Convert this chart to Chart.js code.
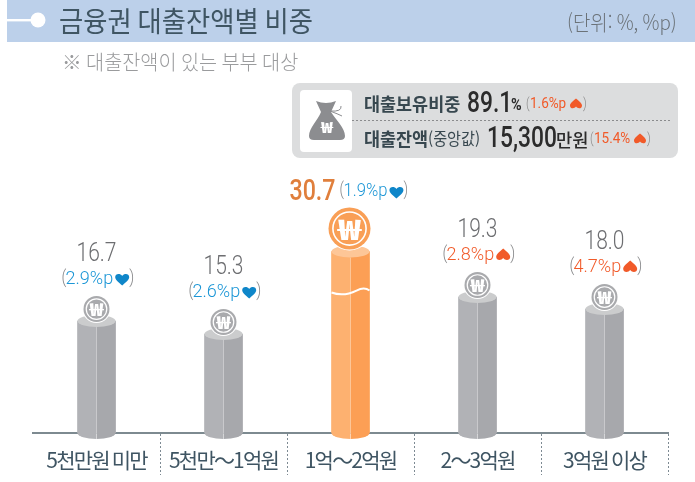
<!DOCTYPE html>
<html lang="ko"><head><meta charset="utf-8">
<style>html,body{margin:0;padding:0;background:#fff}#w{width:695px;height:482px;position:relative}</style>
<script src="https://cdn.jsdelivr.net/npm/chart.js@4/dist/chart.umd.js"></script>
</head><body><div id="w"><canvas id="c" width="695" height="482"></canvas></div>
<script>
// ---- data ----
const categories = ['5천만원 미만','5천만～1억원','1억～2억원','2～3억원','3억원 이상'];
const shares     = [16.7, 15.3, 30.7, 19.3, 18.0];
const changes    = ['2.9%p','2.6%p','1.9%p','2.8%p','4.7%p'];
const rising     = [false, false, false, true, true];
const highlight  = 2;
const titleText  = '금융권 대출잔액별 비중';
const unitText   = '(단위: %, %p)';
const noteText   = '※ 대출잔액이 있는 부부 대상';
const boxShareLabel = '대출보유비중', boxShareValue = '89.1', boxShareChange = '1.6%p';
const boxLoanLabel = '대출잔액', boxLoanSub = '(중앙값)', boxLoanValue = '15,300', boxLoanUnit = '만원', boxLoanChange = '15.4%';
const axisMin = 4.6, axisMax = 30;

const KR = '"Noto Sans CJK KR","Noto Sans"', NUM = 'Roboto,"Noto Sans"';
const BLUE='#1b96d6', RED='#f15a29', GREY='#6d6e71';

// The reference bar is broken: values above breakAt are compressed on the axis.
const breakAt = 20, breakRatio = 0.394;
class BrokenScale extends Chart.LinearScale {
  getPixelForValue(v){ return super.getPixelForValue(v>breakAt ? breakAt+(v-breakAt)*breakRatio : v); }
}
BrokenScale.id='brokenLinear'; BrokenScale.defaults=Chart.LinearScale.defaults;
Chart.register(BrokenScale);

function T(ctx,s,x,y,font,color,cond=1,align='left'){
  ctx.save(); ctx.font=font; ctx.fillStyle=color; ctx.textBaseline='middle'; ctx.textAlign=align;
  const w=ctx.measureText(s).width*cond;
  ctx.fillText(s,x,y,w); ctx.restore(); return w;
}
function heart(ctx,x,y,s,up,color){
  ctx.save(); ctx.translate(x,y); if(up) ctx.scale(1,-1); ctx.scale(s/14,s/14);
  ctx.fillStyle=color; ctx.beginPath(); ctx.moveTo(0,6.5);
  ctx.bezierCurveTo(-4,3,-7,1,-7,-2); ctx.bezierCurveTo(-7,-5.5,-2,-6,0,-3);
  ctx.bezierCurveTo(2,-6,7,-5.5,7,-2); ctx.bezierCurveTo(7,1,4,3,0,6.5); ctx.fill(); ctx.restore();
}
function ell(ctx,x,y,rx,ry,c){ctx.fillStyle=c;ctx.beginPath();ctx.ellipse(x,y,rx,ry,0,0,Math.PI*2);ctx.fill();}
function coin(ctx,x,y,r,main){
  ctx.save();
  ell(ctx,x,y,r+1,r+1,'#fff'); ell(ctx,x,y,r,r,main);
  ctx.strokeStyle='#fff'; ctx.lineWidth=r>15?1.6:1.2; ctx.beginPath(); ctx.arc(x,y,r*0.79,0,Math.PI*2); ctx.stroke();
  const f='900 '+Math.round(r*1.32)+'px '+KR;
  ctx.translate(x,y); ctx.scale(1.35,1);
  T(ctx,'₩',0,0.5,f,'#fff',1,'center');
  ctx.restore();
}
function rr(ctx,x,y,w,h,r,c){ctx.fillStyle=c;ctx.beginPath();ctx.roundRect(x,y,w,h,r);ctx.fill();}

const chromePlugin={ id:'chrome',
  beforeDraw(chart){
    const ctx=chart.ctx; ctx.save();
    ctx.fillStyle='#bcd0ea'; ctx.fillRect(7,0,688,42);
    ctx.fillStyle='#fff'; ctx.fillRect(7,19,25,2.4); ell(ctx,38,20,7.5,7.5,'#fff');
    T(ctx,titleText,59,21,'400 28px '+KR,'#3f5563',0.94);
    T(ctx,unitText,567,22,'300 21px '+KR,'#6b7278',0.9);
    T(ctx,noteText,62,62,'300 20.5px '+KR,'#9a9b9d',0.96);
    rr(ctx,292,83,386,75,8,'#dcddde'); rr(ctx,300,90,52,62,4,'#fff');
    // money bag icon
    const g='#8c8d90'; ctx.fillStyle=g; ctx.beginPath();
    ctx.moveTo(316,101); ctx.quadraticCurveTo(326,105,336,101); ctx.lineTo(331,112);
    ctx.bezierCurveTo(336,120,345,128,345,136); ctx.quadraticCurveTo(345,140,340,140);
    ctx.lineTo(314,140); ctx.quadraticCurveTo(309,140,309,136);
    ctx.bezierCurveTo(309,128,318,120,321,112); ctx.closePath(); ctx.fill();
    ctx.strokeStyle=g; ctx.lineWidth=1; ctx.beginPath(); ctx.moveTo(330,111); ctx.quadraticCurveTo(342,112,341,106); ctx.moveTo(330,111); ctx.quadraticCurveTo(338,114,342,116); ctx.stroke();
    ctx.save(); ctx.translate(327,127); ctx.scale(1.3,1); T(ctx,'₩',0,0,'900 15px '+KR,'#fff',1,'center'); ctx.restore();
    ctx.strokeStyle='#8a8b8d'; ctx.lineWidth=1; ctx.setLineDash([2,2]); ctx.beginPath(); ctx.moveTo(352,120.5); ctx.lineTo(670,120.5); ctx.stroke(); ctx.setLineDash([]);
    const dk='#37474f';
    T(ctx,boxShareLabel,364,104,'700 17.8px '+KR,dk,0.98);
    T(ctx,boxShareValue,467,104,'500 30px '+NUM,'#2b2b2b',0.76);
    T(ctx,'%',511,106,'700 16px '+NUM,'#2b2b2b',0.9);
    T(ctx,'(',526,104,'300 14px '+NUM,'#888',0.8);
    T(ctx,boxShareChange,530,104,'400 15px '+NUM,RED,0.9);
    heart(ctx,576,104,12,true,RED);
    T(ctx,')',583,104,'300 14px '+NUM,'#888',0.8);
    T(ctx,boxLoanLabel,364,139,'700 17.8px '+KR,dk,0.98);
    T(ctx,boxLoanSub,428,139,'400 16.5px '+KR,dk,0.92);
    T(ctx,boxLoanValue,487,139,'500 30px '+NUM,'#2b2b2b',0.76);
    T(ctx,boxLoanUnit,556,140,'500 18px '+KR,'#2b2b2b',0.98);
    T(ctx,'(',590,139,'300 14px '+NUM,'#888',0.8);
    T(ctx,boxLoanChange,594,139,'400 15px '+NUM,RED,0.9);
    heart(ctx,640,139,12,true,RED);
    T(ctx,')',647,139,'300 14px '+NUM,'#888',0.8);
    ctx.restore();
    ctx.letterSpacing='-1.8px';
  },
  beforeDatasetsDraw(chart){ chart.ctx.letterSpacing='0px'; },
  afterDatasetsDraw(chart){
    const ctx=chart.ctx, y=chart.scales.y; ctx.save(); ctx.letterSpacing='0px';
    chart.getDatasetMeta(0).data.forEach((b,i)=>{
      const hi=i===highlight, rx=b.width/2, ry=6;
      const R=hi?'#fc9f55':'#a7a8ac', L=hi?'#fdb170':'#b1b2b6', C=hi?'#fdc697':'#cbcccd';
      ctx.fillStyle=R; ctx.fillRect(b.x,b.y,rx,b.base-b.y);
      ctx.fillStyle=L; ctx.beginPath(); ctx.ellipse(b.x,b.base,rx,ry,0,Math.PI/2,Math.PI); ctx.lineTo(b.x,b.base); ctx.fill();
      ctx.fillStyle=R; ctx.beginPath(); ctx.ellipse(b.x,b.base,rx,ry,0,0,Math.PI/2); ctx.lineTo(b.x,b.base); ctx.fill();
      ctx.fillStyle='rgba(255,255,255,.35)'; ctx.fillRect(b.x-0.5,b.y+ry,1,b.base-b.y);
      ell(ctx,b.x,b.y,rx,ry,C);
      if(hi){ // white break wave
        const w=y.getPixelForValue(breakAt);
        ctx.strokeStyle='#fff'; ctx.lineWidth=2; ctx.beginPath();
        ctx.moveTo(b.x-rx,w+2); ctx.bezierCurveTo(b.x-8,w+6,b.x+2,w+2,b.x+6,w); ctx.bezierCurveTo(b.x+10,w-2,b.x+15,w-3,b.x+rx,w); ctx.stroke();
        coin(ctx,b.x-1,b.y-23,21,'#f99f56');
        T(ctx,shares[i].toFixed(1),b.x-61,193,'500 29px '+NUM,'#e07f3c',0.8);
        deltaLabel(ctx,b.x-11,192,i,17.5);
      } else {
        coin(ctx,b.x,b.y-12,13,'#a9aaad');
        T(ctx,shares[i].toFixed(1),b.x,b.y-66,'300 25px '+NUM,GREY,0.84,'center');
        deltaLabel(ctx,b.x-35,b.y-42,i,19);
      }
    });
    ctx.restore();
  }
};
function deltaLabel(ctx,x,y,i,fs){
  const col=rising[i]?RED:BLUE;
  T(ctx,'(',x,y-1,'300 '+fs+'px '+NUM,'#8a8b8d',0.8);
  const w=T(ctx,changes[i],x+4,y,'300 '+fs+'px '+NUM,col,0.95);
  heart(ctx,x+4+w+9,y,14,rising[i],rising[i]?RED:'#0f86c9');
  T(ctx,')',x+4+w+16,y-1,'300 '+fs+'px '+NUM,'#8a8b8d',0.8);
}

new Chart(document.getElementById('c'),{
  type:'bar',
  data:{labels:categories,datasets:[{data:shares,base:axisMin,barThickness:38,borderWidth:0,
    backgroundColor:categories.map((_,i)=>i===highlight?'#fdb170':'#b1b2b6')}]},
  plugins:[chromePlugin],
  options:{responsive:false,animation:false,
    layout:{padding:{left:33,right:27,top:198,bottom:0}},
    plugins:{legend:{display:false},tooltip:{enabled:false},title:{display:false}},
    scales:{
      y:{type:'brokenLinear',display:false,min:axisMin,max:axisMax},
      x:{type:'category',offset:true,
        afterFit(s){ s.height=49; },
        border:{color:'#7d8a90',width:2},
        grid:{offset:true,drawOnChartArea:false,drawTicks:true,tickLength:42,tickWidth:1,tickBorderDash:[2,2],
          tickColor:c=>c.index>=1||c.index===undefined?'#7d8a93':'transparent'},
        ticks:{padding:-28,maxRotation:0,autoSkip:false,color:'#3f5563',font:{family:KR,size:21,weight:'400'}}
      }
    }
  }
});
</script></body></html>
